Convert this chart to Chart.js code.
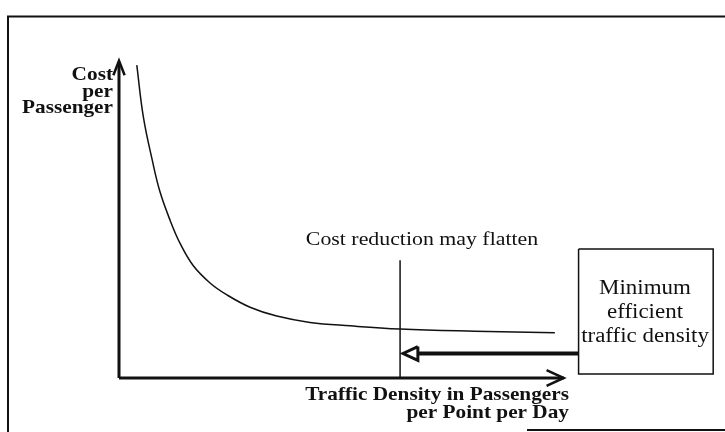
<!DOCTYPE html>
<html>
<head>
<meta charset="utf-8">
<script src="https://cdn.jsdelivr.net/npm/chart.js@4.4.1/dist/chart.umd.min.js"></script>
<style>
    html, body { margin: 0; padding: 0; background: #fff; }
    #wrap { position: relative; width: 725px; height: 432px; }
</style>
</head>
<body>
<div id="wrap"><canvas id="chart"></canvas></div>
<script>
// 곡선 (교통 밀도 vs 승객당 비용), 단위는 0~100 개념 축
const densityX = [3.0, 4.1, 5.6, 6.9, 8.6, 10.3, 12.5, 15.4, 18.2, 22.1, 26.6, 32.2, 39.0, 47.4, 60.0, 73.5];
const costY = [99.0, 82.7, 69.0, 59.0, 50.0, 42.6, 35.6, 30.0, 26.3, 22.4, 19.6, 17.6, 16.5, 15.5, 14.8, 14.3];

// 주석 요소
const flattenX = [47.4, 47.4];
const flattenY = [0, 37.3];
const boxX = [77.5, 100.2, 100.2, 77.5, 77.5];
const boxY = [40.8, 40.8, 1.3, 1.3, 40.8];
const arrowShaftX = [50.4, 77.5];
const arrowShaftY = [7.75, 7.75];
const arrowHeadX = [50.4, 47.9, 50.4, 50.4];
const arrowHeadY = [9.95, 7.75, 5.55, 9.95];

// 축
const yAxisX = [0, 0];
const yAxisY = [0, 100];
const xAxisX = [0, 75];
const xAxisY = [0, 0];
const yArrowX = [-0.95, 0, 0.95];
const yArrowY = [95.8, 100.4, 95.8];
const xArrowX = [72.1, 75, 72.1];
const xArrowY = [2.5, 0, -2.5];

const yLabel = ['Cost', 'per', 'Passenger'];
const xLabel = ['Traffic Density in Passengers', 'per Point per Day'];
const noteLabel = 'Cost reduction may flatten';
const boxLabel = ['Minimum', 'efficient', 'traffic density'];

const toPts = (xs, ys) => xs.map((x, i) => ({ x, y: ys[i] }));

function lineSet(xs, ys, width, extra = {}) {
    return {
        data: toPts(xs, ys),
        showLine: true,
        borderColor: '#111',
        borderWidth: width,
        pointRadius: 0,
        fill: false,
        clip: false,
        tension: 0,
        ...extra
    };
}

const SERIF = '"Liberation Serif", "DejaVu Serif", serif';
const SX = 1.12; // 스캔 원본이 가로로 살짝 늘어나 있음

function stretchedText(ctx, text, x, y, align, font) {
    ctx.save();
    ctx.translate(x, y);
    ctx.scale(SX, 1);
    ctx.font = font;
    ctx.textAlign = align;
    ctx.textBaseline = 'alphabetic';
    ctx.fillStyle = '#111';
    ctx.fillText(text, 0, 0);
    ctx.restore();
}

const decorPlugin = {
    id: 'decor',
    beforeDraw(chart) {
        const ctx = chart.ctx;
        ctx.save();
        ctx.fillStyle = '#fff';
        ctx.fillRect(0, 0, chart.width, chart.height);
        // 바깥 테두리
        ctx.strokeStyle = '#111';
        ctx.lineWidth = 2;
        ctx.beginPath();
        ctx.moveTo(8, 432);
        ctx.lineTo(8, 16.5);
        ctx.lineTo(725, 16.5);
        ctx.moveTo(527, 430);
        ctx.lineTo(725, 430);
        ctx.stroke();
        ctx.restore();
    },
    afterDraw(chart) {
        const ctx = chart.ctx;
        const bold = 'bold 19px ' + SERIF;
        const reg = '19.5px ' + SERIF;
        yLabel.forEach((t, i) => stretchedText(ctx, t, 113, 80 + i * 16.5, 'right', bold));
        xLabel.forEach((t, i) => stretchedText(ctx, t, 569, 400 + i * 17.5, 'right', bold));
        stretchedText(ctx, noteLabel, 422, 245, 'center', reg);
        boxLabel.forEach((t, i) => stretchedText(ctx, t, 645, 294 + i * 24, 'center', '20.5px ' + SERIF));
    }
};

new Chart(document.getElementById('chart'), {
    type: 'scatter',
    data: {
        datasets: [
            lineSet(densityX, costY, 1.5, { tension: 0.4 }),
            lineSet(flattenX, flattenY, 1.5),
            lineSet(boxX, boxY, 1.5),
            lineSet(arrowShaftX, arrowShaftY, 4),
            lineSet(arrowHeadX, arrowHeadY, 3, { fill: true, backgroundColor: '#fff', borderJoinStyle: 'miter' }),
            lineSet(yAxisX, yAxisY, 3),
            lineSet(xAxisX, xAxisY, 3),
            lineSet(yArrowX, yArrowY, 2.5, { borderJoinStyle: 'miter' }),
            lineSet(xArrowX, xArrowY, 2.5, { borderJoinStyle: 'miter' })
        ]
    },
    options: {
        responsive: true,
        maintainAspectRatio: false,
        animation: false,
        layout: { padding: { left: 119, right: 13, top: 62, bottom: 54 } },
        scales: {
            x: { type: 'linear', min: 0, max: 100, display: false },
            y: { type: 'linear', min: 0, max: 100, display: false }
        },
        plugins: {
            legend: { display: false },
            tooltip: { enabled: false }
        }
    },
    plugins: [decorPlugin]
});
</script>
</body>
</html>
